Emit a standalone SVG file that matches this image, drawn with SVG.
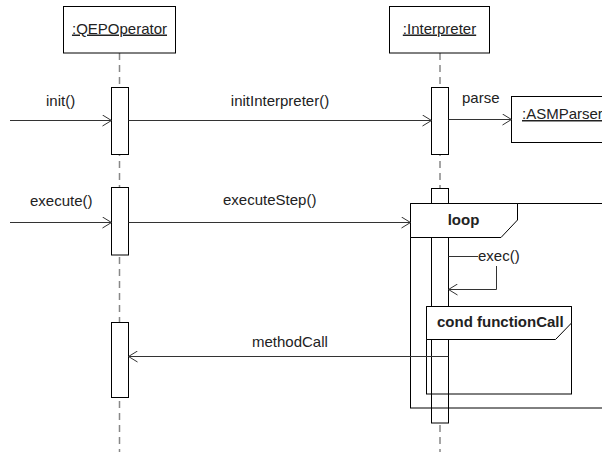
<svg xmlns="http://www.w3.org/2000/svg" width="602" height="454" viewBox="0 0 602 454">
<defs>
<style>
text{font-family:"Liberation Sans",Arial,sans-serif;font-size:15px;fill:#222}
.u{text-decoration:underline}
.b{font-weight:bold}
.box{fill:#fff;stroke:#000;stroke-width:1}
.life{stroke:#888;stroke-width:1.5;stroke-dasharray:7 5;fill:none}
.act{fill:#fff;stroke:#000;stroke-width:1}
.frame{fill:none;stroke:#000;stroke-width:1}
.tab{fill:#fff;stroke:#000;stroke-width:1}
.msg{fill:none;stroke:#333;stroke-width:1}
.arr{marker-end:url(#open)}
</style>
<marker id="open" viewBox="0 0 10 12" markerWidth="10" markerHeight="12" refX="9.5" refY="6" orient="auto" markerUnits="userSpaceOnUse">
<path d="M0.5,0.5 L9.5,6 L0.5,11.5" fill="none" stroke="#333" stroke-width="1"/>
</marker>
</defs>
<rect width="602" height="454" fill="#fff"/>

<g id="lifelines">
<line class="life" x1="119.5" y1="53" x2="119.5" y2="452"/>
<line class="life" x1="440" y1="53" x2="440" y2="452"/>
</g>

<g id="QEPOperator">
<rect class="box" x="63.5" y="6.5" width="112" height="46.5"/>
<text class="u" x="119.5" y="33.5" text-anchor="middle">:QEPOperator</text>
</g>

<g id="Interpreter">
<rect class="box" x="389.5" y="6.5" width="100" height="46.5"/>
<text class="u" x="439.5" y="33.5" text-anchor="middle">:Interpreter</text>
</g>

<g id="ASMParser">
<rect class="box" x="511.5" y="96.5" width="100" height="46"/>
<text class="u" x="522" y="119">:ASMParser</text>
</g>

<g id="activations">
<rect class="act" x="111.5" y="87.5" width="17" height="67"/>
<rect class="act" x="111.5" y="187.5" width="17" height="67.5"/>
<rect class="act" x="111.5" y="322.5" width="17" height="75"/>
<rect class="act" x="431.5" y="87.5" width="17" height="67"/>
<rect class="act" x="431.5" y="188.5" width="17" height="234.5"/>
</g>

<g id="loop">
<rect class="frame" x="410.5" y="203.5" width="200" height="204.5"/>
<path class="tab" d="M410.5,203.5 H517.5 V220 L501,237.5 H410.5 Z"/>
<text class="b" x="463.5" y="225" text-anchor="middle">loop</text>
</g>

<g id="cond">
<rect class="frame" x="426.5" y="306.5" width="145" height="87.5"/>
<path class="tab" d="M426.5,306.5 H571.5 V323 L555.5,339.5 H426.5 Z"/>
<text class="b" x="437" y="327">cond functionCall</text>
</g>

<g id="connectors">
<line class="msg arr" x1="10" y1="120.5" x2="111.5" y2="120.5"/>
<text x="46" y="106">init()</text>
<line class="msg arr" x1="128.5" y1="120.5" x2="431.5" y2="120.5"/>
<text x="280" y="106" text-anchor="middle">initInterpreter()</text>
<line class="msg arr" x1="448.5" y1="119.5" x2="511.5" y2="119.5"/>
<text x="462" y="103">parse</text>

<line class="msg arr" x1="10" y1="222.5" x2="111.5" y2="222.5"/>
<text x="30" y="206">execute()</text>
<line class="msg arr" x1="128.5" y1="222.5" x2="410.5" y2="222.5"/>
<text x="223" y="205">executeStep()</text>

<path class="msg" d="M448.5,256.5 H478"/>
<text x="478" y="261">exec()</text>
<path class="msg arr" d="M496.5,266 V289.5 H448.5"/>

<line class="msg arr" x1="448.5" y1="356.5" x2="128.5" y2="356.5"/>
<text x="252" y="347">methodCall</text>
</g>
</svg>
